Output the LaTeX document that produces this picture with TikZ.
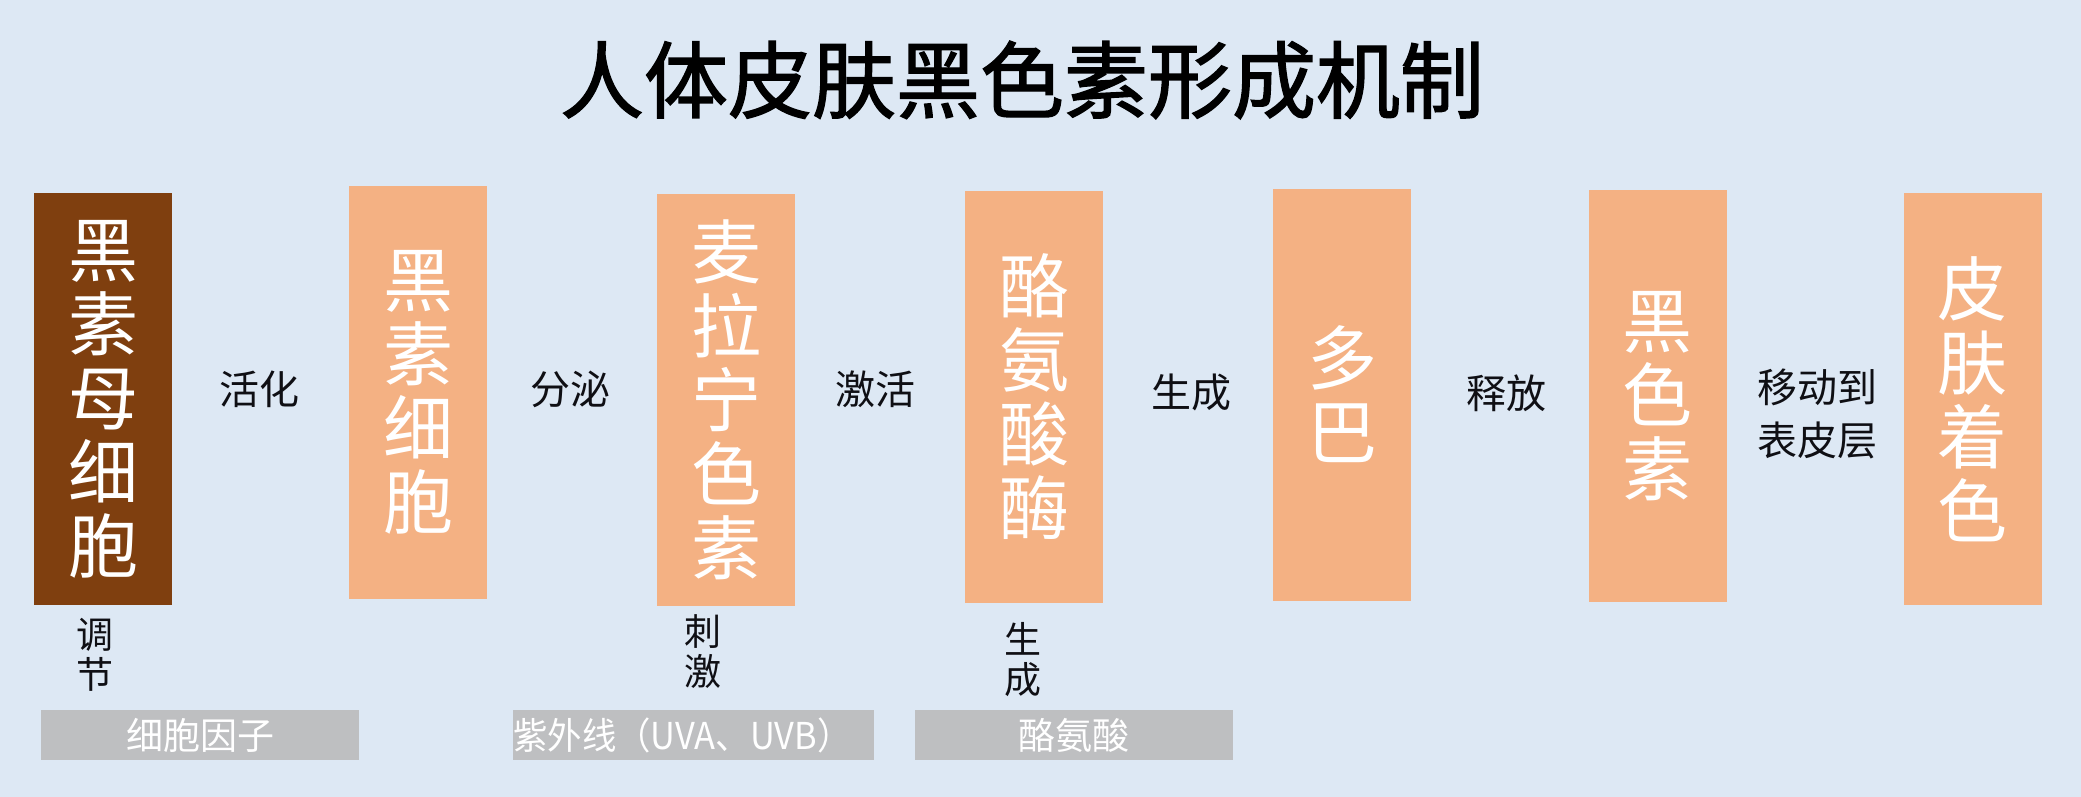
\documentclass[tikz,border=0pt]{standalone}
\usepackage{fontspec}
\usepackage{graphicx}
\setmainfont{Noto Sans CJK SC}
\newfontfamily\titlefont[FakeBold=1.6]{Noto Sans CJK SC}
\definecolor{bg}{RGB}{221,232,244}
\definecolor{brownbox}{RGB}{127,63,15}
\definecolor{orangebox}{RGB}{244,177,131}
\definecolor{graybox}{RGB}{190,191,193}
\definecolor{ink}{RGB}{15,15,20}
\begin{document}
\begin{tikzpicture}[x=1pt,y=-1pt,
  stagebox/.style={fill=orangebox, inner sep=0pt, outer sep=0pt, minimum width=138pt, minimum height=412pt,
    text=white, align=center, font=\fontsize{70}{74}\selectfont},
  midlabel/.style={text=ink, inner sep=0pt, align=center, font=\fontsize{40}{53}\selectfont},
  sidelabel/.style={text=ink, inner sep=0pt, align=center, font=\fontsize{37}{40}\selectfont},
  factorbox/.style={fill=graybox, inner sep=0pt, outer sep=0pt, minimum height=50pt},
  factortext/.style={text=white, inner sep=0pt, font=\fontsize{37}{40}\selectfont}]
\useasboundingbox (0,0) rectangle (2081,797);
\fill[bg] (0,0) rectangle (2081,797);
% title
\node[text=black, inner sep=0pt, font=\titlefont\fontsize{84}{84}\selectfont] (title) at (1022,80) {人体皮肤黑色素形成机制};
% stage boxes
\node[stagebox, fill=brownbox] (b1) at (103,399) {黑\\素\\母\\细\\胞};
\node[stagebox] (b2) at (418,392.5) {黑\\素\\细\\胞};
\node[stagebox] (b3) at (726,399.5) {麦\\拉\\宁\\色\\素};
\node[stagebox] (b4) at (1034,396.5) {酪\\氨\\酸\\酶};
\node[stagebox] (b5) at (1342,394.5) {多\\巴};
\node[stagebox] (b6) at (1657.5,396) {黑\\色\\素};
\node[stagebox] (b7) at (1972.5,399) {皮\\肤\\着\\色};
% labels between boxes
\node[midlabel] (l1) at (259,389) {活化};
\node[midlabel] (l2) at (570,389) {分泌};
\node[midlabel] (l3) at (875,389) {激活};
\node[midlabel] (l4) at (1191,392) {生成};
\node[midlabel] (l5) at (1506,393) {释放};
\node[midlabel] (l6) at (1817,414) {移动到\\表皮层};
% labels below boxes
\node[sidelabel] (s1) at (95,655) {调\\节};
\node[sidelabel] (s2) at (703,652) {刺\\激};
\node[sidelabel] (s3) at (1023,660) {生\\成};
% factor boxes
\node[factorbox, minimum width=318pt] (g1) at (200,735) {};
\node[factortext] (t1) at (g1.center) {细胞因子};
\node[factorbox, minimum width=361pt] (g2) at (693.5,735) {};
\node[factortext, anchor=west] (t2) at (g2.west) {\scalebox{0.93}[1]{紫外线（UVA、UVB）}};
\node[factorbox, minimum width=318pt] (g3) at (1074,735) {};
\node[factortext] (t3) at (g3.center) {酪氨酸};
\end{tikzpicture}
\end{document}
